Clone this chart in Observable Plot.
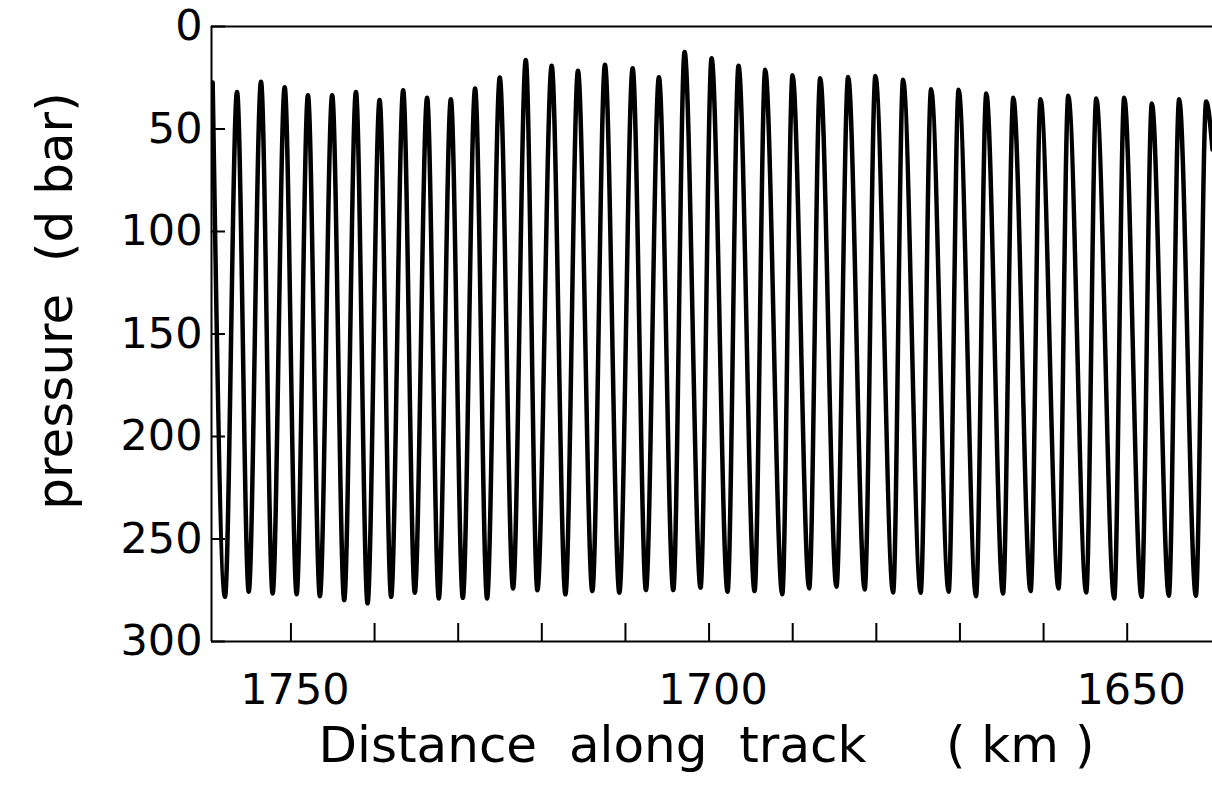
<!DOCTYPE html>
<html>
<head>
<meta charset="utf-8">
<script src="https://cdn.jsdelivr.net/npm/d3@7"></script>
<script src="https://cdn.jsdelivr.net/npm/@observablehq/plot@0.6"></script>
<style>
  html, body { margin: 0; padding: 0; background: #fff; }
  #chart svg { display: block; font-family: "DejaVu Sans", sans-serif; }
</style>
</head>
<body>
<div id="chart"></div>
<script>
// ---- data ----
const xDomain = [1759.5, 1639.8];          // distance along track (km), reversed
const yDomain = [0, 300];                  // pressure (dbar), downward
const xTicks = [1750, 1740, 1730, 1720, 1710, 1700, 1690, 1680, 1670, 1660, 1650];
const xTickLabels = [1750, 1700, 1650];
const yTicks = [0, 50, 100, 150, 200, 250, 300];

// shallow turning points of the profiler (minimum pressure)
const peakDistance = [1759.36, 1756.45, 1753.58, 1750.75, 1747.97, 1745.07, 1742.23, 1739.40, 1736.58, 1733.72,
  1730.88, 1727.98, 1725.03, 1721.92, 1718.82, 1715.68, 1712.45, 1709.14, 1706.00, 1702.93,
  1699.70, 1696.48, 1693.29, 1690.02, 1686.71, 1683.37, 1680.11, 1676.80, 1673.45, 1670.16,
  1666.85, 1663.62, 1660.36, 1657.05, 1653.70, 1650.36, 1647.05, 1643.79, 1640.56];
const peakPressure = [27.3, 31.9, 27.0, 29.6, 33.5, 33.5, 31.9, 35.8, 31.1, 34.8,
  35.5, 30.3, 24.9, 16.3, 19.2, 21.6, 18.7, 20.4, 24.8, 12.4,
  15.5, 19.2, 21.1, 23.8, 25.2, 24.6, 24.1, 26.0, 30.6, 30.9,
  32.7, 34.8, 35.5, 33.8, 35.1, 34.7, 37.6, 35.5, 36.6];

// deep turning points (maximum pressure)
const troughDistance = [1757.89, 1755.05, 1752.19, 1749.32, 1746.54, 1743.63, 1740.84, 1738.02, 1735.19, 1732.32,
  1729.45, 1726.55, 1723.44, 1720.53, 1717.18, 1713.96, 1710.73, 1707.55, 1704.28, 1701.02,
  1697.79, 1694.56, 1691.25, 1688.03, 1684.77, 1681.39, 1677.99, 1674.70, 1671.35, 1668.08,
  1664.85, 1661.55, 1658.21, 1654.90, 1651.55, 1648.29, 1645.02, 1641.79];
const troughPressure = [278.2, 275.7, 276.6, 276.9, 277.9, 279.8, 281.4, 278.2, 276.2, 279.0,
  278.7, 279.0, 274.1, 275.0, 277.0, 275.4, 276.2, 274.9, 274.9, 273.8,
  275.7, 275.4, 277.0, 274.1, 273.3, 274.6, 276.1, 276.2, 275.7, 277.9,
  276.6, 275.4, 274.1, 276.1, 279.0, 278.2, 277.7, 277.7];

// where the trace leaves the right edge of the panel
const endDistance = [1639.8];
const endPressure = [60];

const xTitle = "Distance\u00a0\u00a0along\u00a0\u00a0track\u00a0\u00a0\u00a0\u00a0\u00a0(\u00a0km\u00a0)";
const yTitle = "pressure\u00a0\u00a0(d\u00a0bar)";

// ---- build the trace ----
const trace = [
  ...peakDistance.map((d, i) => ({km: d, p: peakPressure[i]})),
  ...troughDistance.map((d, i) => ({km: d, p: troughPressure[i]})),
  ...endDistance.map((d, i) => ({km: d, p: endPressure[i]}))
].sort((a, b) => b.km - a.km);

// ---- layout ----
const W = 1212, H = 802;
const mL = 211, mT = 26, mR = 0, mB = 161;
const frameW = W - mL - mR, frameH = H - mT - mB;

const chart = Plot.plot({
  width: W,
  height: H,
  marginLeft: mL,
  marginTop: mT,
  marginRight: mR,
  marginBottom: mB,
  style: {fontFamily: "DejaVu Sans, sans-serif", background: "white", color: "black", overflow: "visible"},
  x: {domain: xDomain, axis: null},
  y: {domain: yDomain, reverse: true, axis: null},
  marks: [
    // frame (top, bottom, left)
    Plot.ruleY([yDomain[0], yDomain[1]], {stroke: "black", strokeWidth: 2}),
    Plot.ruleX([xDomain[0]], {stroke: "black", strokeWidth: 2}),
    // inward ticks
    Plot.tickX(xTicks, {x: d => d, stroke: "black", strokeWidth: 2, insetTop: frameH - 18}),
    Plot.tickY(yTicks, {y: d => d, stroke: "black", strokeWidth: 2, insetRight: frameW - 14}),
    // tick labels
    Plot.text(xTickLabels, {x: d => d, y: yDomain[1], text: d => String(d), fontSize: 43,
      lineAnchor: "top", dy: 32, dx: 4, fill: "black"}),
    Plot.text(yTicks, {x: xDomain[0], y: d => d, text: d => String(d), fontSize: 43,
      textAnchor: "end", lineAnchor: "middle", dx: -9, fill: "black"}),
    // data trace
    Plot.line(trace, {x: "km", y: "p", curve: "monotone-x", stroke: "black", strokeWidth: 4.5,
      strokeLinejoin: "round", clip: true}),
    // axis titles
    Plot.text([xTitle], {frameAnchor: "bottom-left", text: d => d, textAnchor: "start",
      lineAnchor: "bottom", dx: 107, dy: 120, fontSize: 50, fill: "black"}),
    Plot.text([yTitle], {frameAnchor: "left", text: d => d, rotate: -90, textAnchor: "middle",
      lineAnchor: "bottom", dx: -140, dy: -33, fontSize: 50, fill: "black"})
  ]
});
document.getElementById("chart").appendChild(chart);
</script>
</body>
</html>
